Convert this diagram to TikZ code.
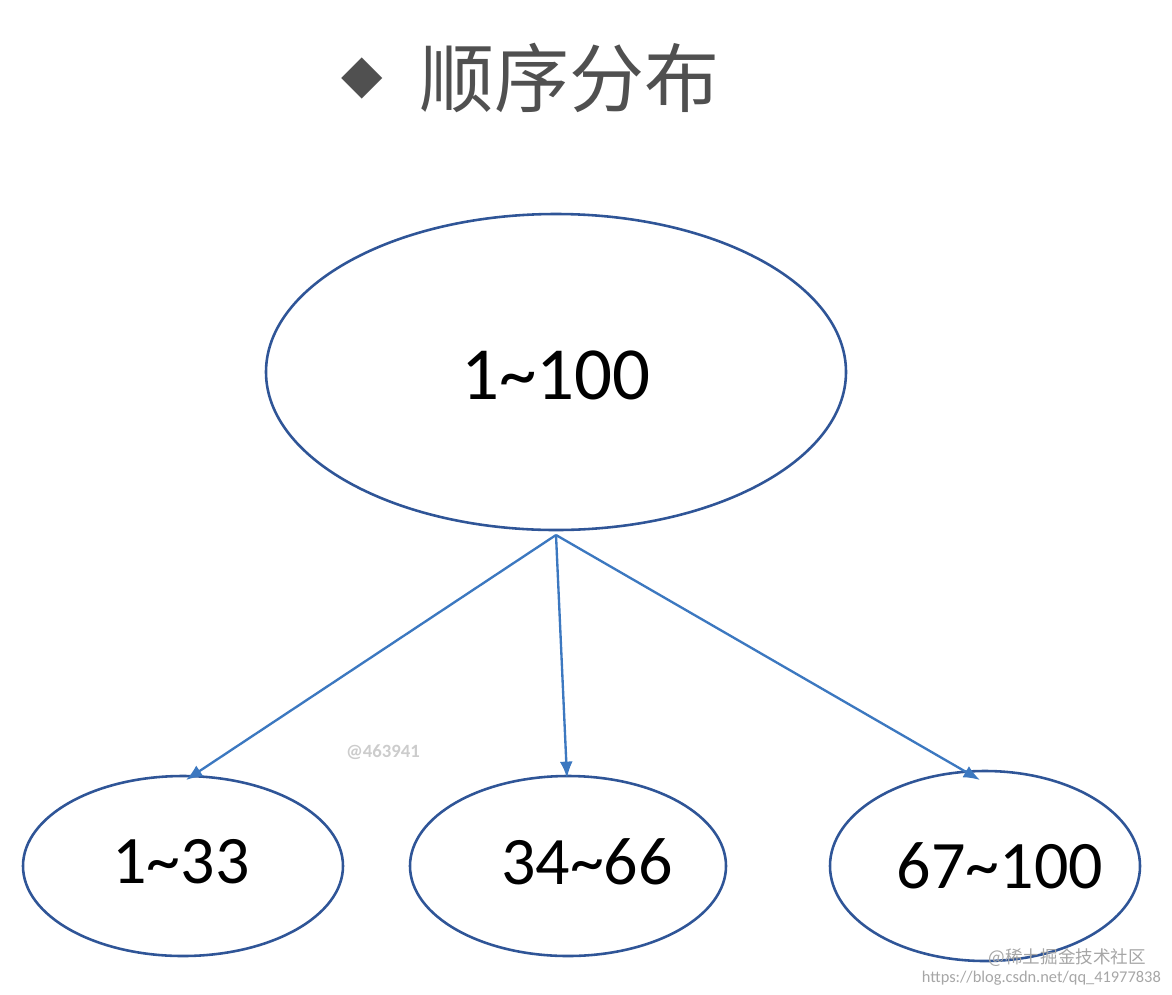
\documentclass[tikz,border=0pt]{standalone}
\usepackage{fontspec}
\usetikzlibrary{arrows.meta}
\setmainfont{Carlito}
\newfontfamily\cjk{Noto Sans CJK SC}
\newfontfamily\djsans{DejaVu Sans}
\definecolor{ebord}{HTML}{2F5597}
\definecolor{arr}{HTML}{3C78C0}
\definecolor{ttl}{HTML}{505050}
\begin{document}
\begin{tikzpicture}[x=0.03cm,y=-0.03cm,
  ell/.style={draw=ebord,line width=2.2pt},
  conn/.style={draw=arr,line width=2pt,-{Latex[length=14pt,width=11pt]}},
  num/.style={font=\fontsize{64}{70}\selectfont}]
\useasboundingbox (0,0) rectangle (1172,994);
\node[text=ttl,font=\djsans\fontsize{46}{50}\selectfont] (dia) at (362,78) {◆};
\node[text=ttl,font=\cjk\fontsize{64}{70}\selectfont,anchor=west] (title) at (415,78) {顺序分布};
\draw[ell] (556,372) ellipse (290 and 158);
\node[num] (top) at (556,375) {1\char`~100};
\coordinate (src) at (556,535);
\draw[ell] (183,866) ellipse (160 and 90);
\draw[ell] (568,866) ellipse (158 and 90);
\draw[ell] (985,866) ellipse (155 and 95);
\node[num,font=\fontsize{58}{64}\selectfont] (a) at (181,862) {1\char`~33};
\node[num,font=\fontsize{58}{64}\selectfont] (b) at (587,862) {34\char`~66};
\node[num,font=\fontsize{58}{64}\selectfont] (c) at (1000,866) {67\char`~100};
\coordinate (ta) at (186,780);
\coordinate (tb) at (567,778);
\coordinate (tc) at (980,780);
\draw[conn] (src) -- (ta);
\draw[conn] (src) -- (tb);
\draw[conn] (src) -- (tc);
\node[text=black!20,font=\bfseries\fontsize{16}{18}\selectfont] (w1) at (383,752) {@463941};
\node[text=black!35,font=\cjk\fontsize{15}{17}\selectfont,anchor=east] (w2) at (1150,958) {@稀土掘金技术社区};
\node[text=black!35,font=\fontsize{14}{16}\selectfont,anchor=east] (w3) at (1165,978) {https://blog.csdn.net/qq\_41977838};
\end{tikzpicture}
\end{document}
